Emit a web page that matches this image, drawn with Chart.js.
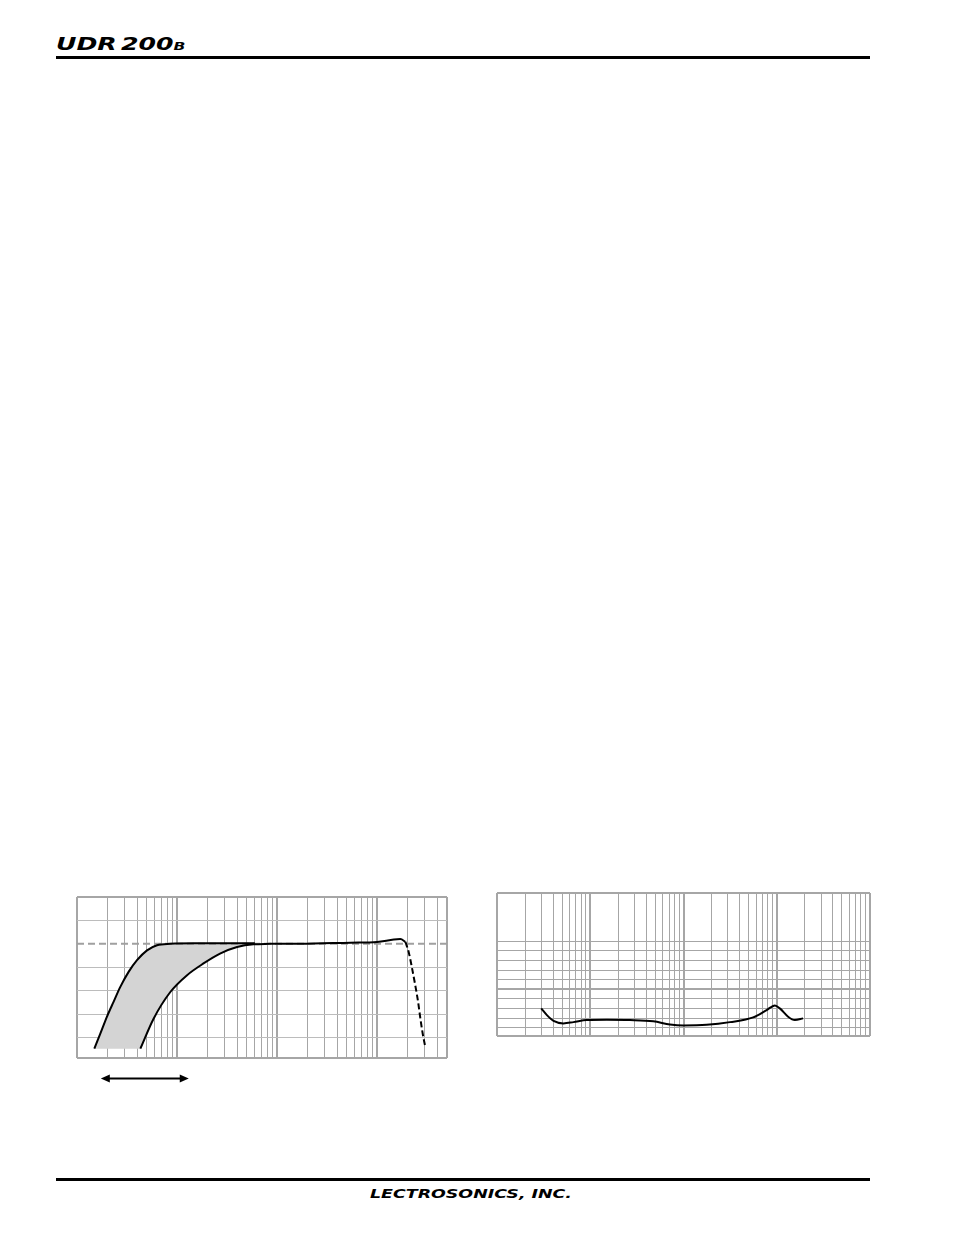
<!DOCTYPE html>
<html>
<head>
<meta charset="utf-8">
<script src="https://cdn.jsdelivr.net/npm/chart.js@4.4.1/dist/chart.umd.min.js"></script>
<style>
  html, body { margin: 0; padding: 0; background: #fff; }
  body { width: 954px; height: 1235px; position: relative; overflow: hidden; font-family: 'DejaVu Sans', sans-serif; }
  .brand { position: absolute; font-weight: bold; font-style: italic; white-space: nowrap; color: #000; line-height: 1; }
  #title { left: 56px; top: 36px; font-size: 17px; word-spacing: -3px; transform-origin: left top; transform: scaleX(1.48); }
  #title span { font-size: 10.5px; }
  #footer { left: 471px; top: 1188px; font-size: 12px; transform: translateX(-50%) scaleX(1.45); }
  .rule { position: absolute; left: 56px; width: 814px; height: 3px; background: #000; }
  .wrap { position: absolute; }
  #w1 { left: 70px; top: 890px; }
  #w2 { left: 490px; top: 886px; }
</style>
</head>
<body>
<div class="brand" id="title">UDR 200<span>B</span></div>
<div class="rule" style="top:56px"></div>

<div class="wrap" id="w1"><canvas id="lowCutChart" width="384" height="200"></canvas></div>
<div class="wrap" id="w2"><canvas id="thdChart" width="387" height="157"></canvas></div>

<div class="rule" style="top:1178px"></div>
<div class="brand" id="footer">LECTROSONICS, INC.</div>

<script>
// --- frequency response (low-cut range), Hz / dB ---
const fastHz = [14.9, 17.1, 19.9, 23.2, 27.1, 32.8, 39.8, 50.1, 63.1, 85.7, 150, 300, 600];
const fastDb = [-22.4, -19.2, -15.6, -12.4, -9.2, -6.0, -3.5, -1.4, -0.3, 0.0, 0.1, 0.1, 0.1];
const slowHz = [43, 58.3, 85.7, 126, 184, 269, 398, 582, 850];
const slowDb = [-22.4, -16.0, -10.3, -6.7, -4.2, -2.1, -0.7, -0.1, 0.0];
const flatHz = [850, 1700, 5400, 10000, 14700, 17100, 19200];
const flatDb = [0.0, 0.0, 0.25, 0.4, 0.9, 1.0, 0.4];
const rollHz = [19200, 20700, 22400, 24100, 25700, 27100, 28800, 30400];
const rollDb = [0.4, -1.75, -5.3, -8.9, -12.4, -16.0, -19.6, -22.1];
const refHz = [10, 50000];
const refDb = [0, 0];
const arrowHz = [17.3, 131];
const resDbGrid = [-24.4, -20, -15, -10, -5, 0, 5, 10];

// --- distortion vs frequency ---
const thdHz = [29.8, 34.3, 40.4, 51.6, 66.1, 92, 150.6, 267, 475, 716, 995, 1770, 3150, 5590, 7780, 9550, 10790, 13240, 15630, 19170];
const thdVal = [-1.98, -2.68, -3.27, -3.54, -3.41, -3.2, -3.17, -3.2, -3.33, -3.65, -3.75, -3.69, -3.41, -2.92, -2.16, -1.67, -1.98, -2.85, -3.2, -3.02];
const thdGrid = [-4.85, -4, -3, -2, -1, 0, 1, 2, 3, 4, 5, 10];

const GRID = '#a6a6a6';
const GRID_LIGHT = '#bcbcbc';

const pts = (xs, ys) => xs.map((x, i) => ({ x, y: ys[i] }));
const isDecade = (v) => Math.abs(Math.log10(v) - Math.round(Math.log10(v))) < 1e-9;
const logGrid = (min, max) => {
  const out = [];
  for (let d = min; d < max; d *= 10) {
    for (let m = 1; m <= 9; m++) if (d * m <= max) out.push(d * m);
  }
  if (out[out.length - 1] !== max) out.push(max);
  return out;
};

function curve(data, opts = {}) {
  return {
    data,
    showLine: true,
    borderColor: '#000',
    borderWidth: 2,
    pointRadius: 0,
    fill: false,
    cubicInterpolationMode: 'monotone',
    ...opts,
  };
}

function logX(min, max) {
  return {
    type: 'logarithmic', min, max,
    afterBuildTicks: (axis) => { axis.ticks = logGrid(min, max).map((value) => ({ value })); },
    ticks: { display: false },
    border: { display: false },
    grid: {
      drawTicks: false,
      color: GRID,
      lineWidth: (c) => (isDecade(c.tick.value) || c.tick.value === max ? 2 : 1),
    },
  };
}

const rangeArrow = {
  id: 'rangeArrow',
  afterDraw(chart) {
    const { ctx, chartArea, scales: { x } } = chart;
    const x0 = x.getPixelForValue(arrowHz[0]);
    const x1 = x.getPixelForValue(arrowHz[1]);
    const y = chartArea.bottom + 20.5;
    ctx.save();
    ctx.strokeStyle = '#000';
    ctx.fillStyle = '#000';
    ctx.lineWidth = 2;
    ctx.beginPath(); ctx.moveTo(x0 + 5, y); ctx.lineTo(x1 - 5, y); ctx.stroke();
    ctx.beginPath(); ctx.moveTo(x0, y); ctx.lineTo(x0 + 9, y - 4); ctx.lineTo(x0 + 9, y + 4); ctx.closePath(); ctx.fill();
    ctx.beginPath(); ctx.moveTo(x1, y); ctx.lineTo(x1 - 9, y - 4); ctx.lineTo(x1 - 9, y + 4); ctx.closePath(); ctx.fill();
    ctx.restore();
  },
};

new Chart(document.getElementById('lowCutChart'), {
  type: 'scatter',
  data: {
    datasets: [
      curve(pts(fastHz, fastDb), { order: 0 }),
      curve(pts(slowHz, slowDb), { order: 0 }),
      curve(pts(flatHz, flatDb), { order: 0 }),
      curve(pts(rollHz, rollDb), { order: 0, borderDash: [6, 3] }),
      curve(pts(refHz, refDb), { order: 2, borderColor: '#a0a0a0', borderDash: [7, 4], cubicInterpolationMode: 'default' }),
      // shaded band between fastest and slowest low-cut settings
      curve(pts(fastHz, fastDb).concat(pts(slowHz, slowDb).reverse()), {
        order: 3, borderColor: 'rgba(0,0,0,0)', borderWidth: 0, backgroundColor: '#d4d4d4',
        fill: 'shape', cubicInterpolationMode: 'default', tension: 0,
      }),
    ],
  },
  options: {
    responsive: false,
    animation: false,
    events: [],
    layout: { padding: { left: 7, top: 7, right: 7, bottom: 32 } },
    plugins: { legend: { display: false }, tooltip: { enabled: false } },
    scales: {
      x: logX(10, 50000),
      y: {
        min: -24.4, max: 10,
        afterBuildTicks: (axis) => { axis.ticks = resDbGrid.map((value) => ({ value })); },
        ticks: { display: false },
        border: { display: false },
        grid: {
          drawTicks: false,
          color: (c) => (c.tick.value === 0 ? 'rgba(0,0,0,0)' : (c.tick.value === -24.4 || c.tick.value === 10 ? GRID : GRID_LIGHT)),
          lineWidth: (c) => (c.tick.value === -24.4 || c.tick.value === 10 ? 2 : 1),
        },
      },
    },
  },
  plugins: [rangeArrow],
});

new Chart(document.getElementById('thdChart'), {
  type: 'scatter',
  data: {
    datasets: [curve(pts(thdHz, thdVal))],
  },
  options: {
    responsive: false,
    animation: false,
    events: [],
    layout: { padding: 7 },
    plugins: { legend: { display: false }, tooltip: { enabled: false } },
    scales: {
      x: logX(10, 100000),
      y: {
        min: -4.85, max: 10,
        afterBuildTicks: (axis) => { axis.ticks = thdGrid.map((value) => ({ value })); },
        ticks: { display: false },
        border: { display: false },
        grid: {
          drawTicks: false,
          color: GRID,
          lineWidth: (c) => ([-4.85, 0, 10].includes(c.tick.value) ? 2 : 1),
        },
      },
    },
  },
});
</script>
</body>
</html>
